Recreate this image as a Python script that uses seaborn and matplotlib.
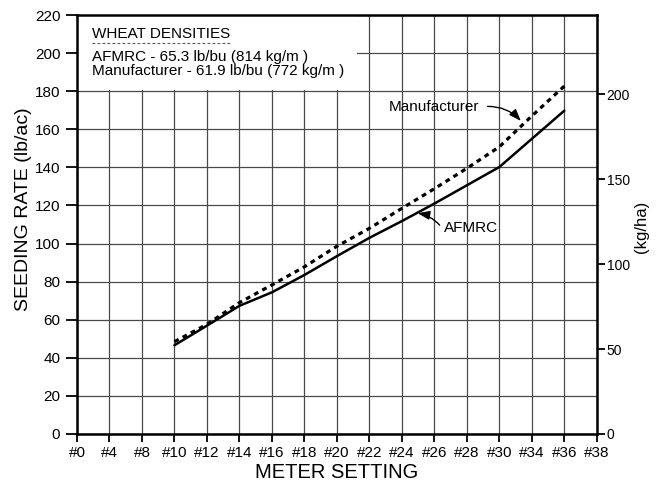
import numpy as np
import pandas as pd
import matplotlib
matplotlib.use("Agg")
import matplotlib.pyplot as plt
from matplotlib.patches import Rectangle
import seaborn as sns

# meter settings shown on the x axis (equally spaced categories)
settings = ["#0", "#4", "#8", "#10", "#12", "#14", "#16", "#18", "#20",
            "#22", "#24", "#26", "#28", "#30", "#34", "#36", "#38"]
measured = ["#10", "#12", "#14", "#16", "#18", "#20", "#22", "#24",
            "#26", "#28", "#30", "#34", "#36"]

# seeding rate, lb/ac
afmrc = [46.6, 56.9, 67.3, 74.4, 83.5, 93.4, 103.0, 111.8, 121.0, 130.6, 140.2, 155.0, 169.8]
manufacturer = [48.5, 57.6, 69.0, 78.3, 87.8, 98.6, 108.0, 118.5, 128.8, 139.5, 150.8, 167.0, 182.7]

LB_AC_TO_KG_HA = 1.12085

pos = {s: i for i, s in enumerate(settings)}
df = pd.DataFrame({
    "setting": [pos[s] for s in measured] * 2,
    "rate": afmrc + manufacturer,
    "source": ["AFMRC"] * len(measured) + ["Manufacturer"] * len(measured),
})

sns.set_theme(style="white")
plt.rcParams["font.family"] = ["Liberation Sans", "DejaVu Sans"]
plt.rcParams["text.color"] = "black"
plt.rcParams["axes.labelcolor"] = "black"

fig, ax = plt.subplots(figsize=(6.58, 4.86), dpi=100)
fig.subplots_adjust(left=0.117, right=0.907, top=0.969, bottom=0.107)

sns.lineplot(data=df[df.source == "AFMRC"], x="setting", y="rate", color="black",
             linewidth=1.8, ax=ax, zorder=4)
sns.lineplot(data=df[df.source == "Manufacturer"], x="setting", y="rate", color="black",
             linewidth=2.3, ax=ax, zorder=4)
ax.lines[-1].set_linestyle((0, (1.5, 1.4)))

ax.set_xlim(0, len(settings) - 1)
ax.set_ylim(0, 220)
ax.set_xticks(range(len(settings)))
ax.set_xticklabels(settings)
ax.set_yticks(np.arange(0, 221, 20))

ax.grid(True, color="#4a4a4a", linewidth=0.9)
ax.set_axisbelow(True)

# blank panel behind the densities note
ax.add_patch(Rectangle((0, 180.7), 8.62, 39.3, facecolor="white", edgecolor="none", zorder=1.5))
ax.text(0.46, 210.1, "WHEAT DENSITIES", fontsize=11, va="center", zorder=5)
ax.plot([0.46, 4.77], [205.2, 205.2], color="#555555", linestyle=(0, (2.5, 2)), linewidth=0.8, zorder=5)
ax.text(0.46, 198.1, "AFMRC - 65.3 lb/bu (814 kg/m )", fontsize=11, va="center", zorder=5)
ax.text(0.46, 190.6, "Manufacturer - 61.9 lb/bu (772 kg/m )", fontsize=11, va="center", zorder=5)

# line labels
ax.text(12.38, 171.7, "Manufacturer", fontsize=11, ha="right", va="center", zorder=5)
ax.annotate("", xy=(13.72, 163.3), xytext=(12.55, 172.0),
            arrowprops=dict(arrowstyle="-|>,head_length=0.6,head_width=0.22", color="black",
                            lw=1, connectionstyle="arc3,rad=-0.25"), zorder=5)
ax.text(11.3, 108.1, "AFMRC", fontsize=11, ha="left", va="center", zorder=5)
ax.annotate("", xy=(10.4, 116.2), xytext=(11.22, 108.6),
            arrowprops=dict(arrowstyle="-|>,head_length=0.6,head_width=0.22", color="black",
                            lw=1, connectionstyle="arc3,rad=0.2"), zorder=5)

for side in ["left", "right", "top", "bottom"]:
    ax.spines[side].set_visible(True)
    ax.spines[side].set_color("black")
    ax.spines[side].set_linewidth(1.8)

ax.tick_params(axis="y", direction="out", length=8, width=1.3, left=True, labelsize=11, pad=4, colors="black")
ax.tick_params(axis="x", direction="out", length=6, width=1.3, bottom=True, labelsize=11, pad=3, colors="black")
ax.set_xlabel("METER SETTING", fontsize=14.5, labelpad=2)
ax.set_ylabel("SEEDING RATE (lb/ac)", fontsize=14, va="center")
ax.yaxis.set_label_coords(-0.102, 0.537)

ax2 = ax.twinx()
ax2.set_ylim(0, 220 * LB_AC_TO_KG_HA)
ax2.set_yticks([0, 50, 100, 150, 200])
ax2.grid(False)
for side in ["left", "right", "top", "bottom"]:
    ax2.spines[side].set_visible(False)
ax2.tick_params(axis="y", direction="out", length=6, width=1.3, right=True, labelsize=10, pad=1, colors="black")
ax2.set_ylabel("(kg/ha)", fontsize=12, va="center")
ax2.yaxis.set_label_coords(1.086, 0.494)

fig.savefig("out.png", dpi=100, facecolor="white")
